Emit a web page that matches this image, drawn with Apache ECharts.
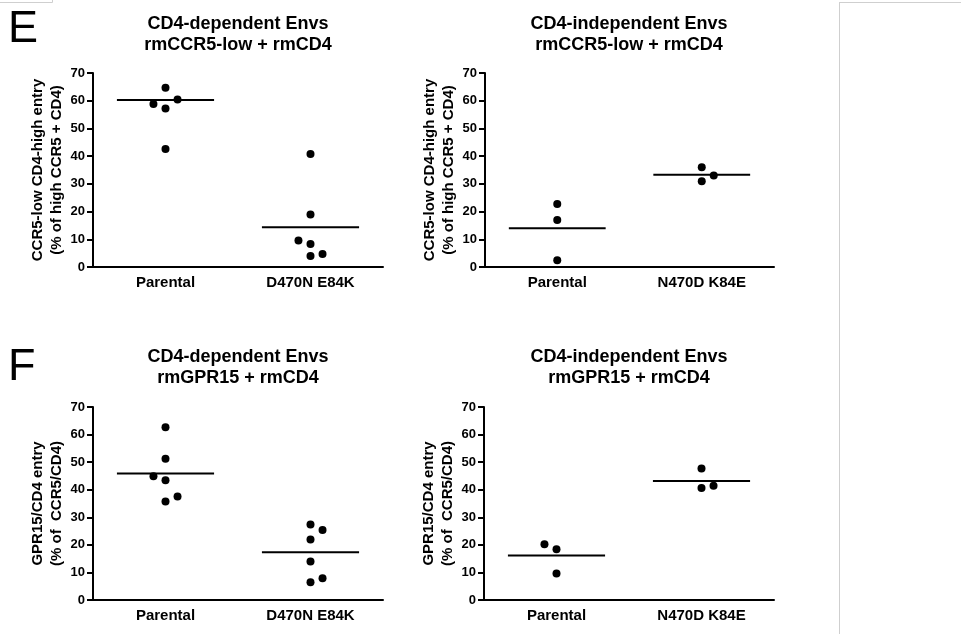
<!DOCTYPE html>
<html><head><meta charset="utf-8">
<script src="https://cdn.jsdelivr.net/npm/echarts@6/dist/echarts.min.js"></script>
<style>html,body{margin:0;padding:0;background:#fff}#c{width:961px;height:634px}</style>
</head><body><div id="c"></div>
<script>
// ---- data ----
const categoriesDep = ['Parental', 'D470N E84K'];
const categoriesIndep = ['Parental', 'N470D K84E'];
const yTicks = [0, 10, 20, 30, 40, 50, 60, 70];

const panelTitles = [
  'CD4-dependent Envs\nrmCCR5-low + rmCD4',
  'CD4-independent Envs\nrmCCR5-low + rmCD4',
  'CD4-dependent Envs\nrmGPR15 + rmCD4',
  'CD4-independent Envs\nrmGPR15 + rmCD4'
];
const yNameE = 'CCR5-low CD4-high entry\n(% of high CCR5 + CD4)';
const yNameF = 'GPR15/CD4 entry\n(% of  CCR5/CD4)';
const panelLetters = ['E', 'F'];

// E, CD4-dependent (rmCCR5-low + rmCD4)
const eDepParental = [64.7, 60.4, 58.8, 57.2, 42.6];
const eDepParentalSlot = [0, 1, -1, 0, 0];
const eDepMutant = [40.8, 18.9, 9.6, 8.3, 4.7, 4.0];
const eDepMutantSlot = [0, 0, -1, 0, 1, 0];
const eDepMeans = [60.3, 14.3];

// E, CD4-independent (rmCCR5-low + rmCD4)
const eIndParental = [22.7, 17.0, 2.4];
const eIndParentalSlot = [0, 0, 0];
const eIndMutant = [36.0, 33.0, 30.9];
const eIndMutantSlot = [0, 1, 0];
const eIndMeans = [14.0, 33.3];

// F, CD4-dependent (rmGPR15 + rmCD4)
const fDepParental = [62.7, 51.2, 44.9, 43.4, 37.5, 35.7];
const fDepParentalSlot = [0, 0, -1, 0, 1, 0];
const fDepMutant = [27.4, 25.4, 21.9, 14.0, 7.9, 6.4];
const fDepMutantSlot = [0, 1, 0, 0, 1, 0];
const fDepMeans = [45.9, 17.3];

// F, CD4-independent (rmGPR15 + rmCD4)
const fIndParental = [20.2, 18.4, 9.6];
const fIndParentalSlot = [-1, 0, 0];
const fIndMutant = [47.7, 41.4, 40.6];
const fIndMutantSlot = [0, 1, 0];
const fIndMeans = [16.1, 43.2];

// ---- layout / style ----
const FONT = '"Liberation Sans", Arial, Helvetica, sans-serif';
const JITTER = 0.083;     // horizontal spacing of side-by-side dots (category units)
const MEAN_HALF = 0.335;  // half length of mean bar (category units)
const grids = [
  { left: 93, top: 73, width: 290, height: 194 },
  { left: 485, top: 73, width: 289, height: 194 },
  { left: 93, top: 407, width: 290, height: 193 },
  { left: 484, top: 407, width: 290, height: 193 }
];
const titleCenters = [[238, 34.5], [629, 34.5], [238, 367.5], [629, 367.5]];

const panels = [
  { cats: categoriesDep, yName: yNameE, groups: [[eDepParental, eDepParentalSlot], [eDepMutant, eDepMutantSlot]], means: eDepMeans },
  { cats: categoriesIndep, yName: yNameE, groups: [[eIndParental, eIndParentalSlot], [eIndMutant, eIndMutantSlot]], means: eIndMeans },
  { cats: categoriesDep, yName: yNameF, groups: [[fDepParental, fDepParentalSlot], [fDepMutant, fDepMutantSlot]], means: fDepMeans },
  { cats: categoriesIndep, yName: yNameF, groups: [[fIndParental, fIndParentalSlot], [fIndMutant, fIndMutantSlot]], means: fIndMeans }
];

const xAxis = [], yAxis = [], series = [], graphic = [];
panels.forEach((p, i) => {
  xAxis.push({
    type: 'category', gridIndex: i, data: p.cats, boundaryGap: true,
    axisLine: { onZero: false, lineStyle: { color: '#000', width: 2 } },
    axisTick: { alignWithLabel: true, length: 5, lineStyle: { color: '#000', width: 2 } },
    axisLabel: { color: '#000', fontFamily: FONT, fontWeight: 'bold', fontSize: 15, margin: 8 },
    splitLine: { show: false }
  });
  xAxis.push({ type: 'value', gridIndex: i, min: -0.5, max: 1.5, show: false });
  yAxis.push({
    type: 'value', gridIndex: i, min: yTicks[0], max: yTicks[yTicks.length - 1],
    interval: yTicks[1] - yTicks[0],
    name: p.yName, nameLocation: 'middle', nameGap: 26,
    nameTextStyle: { color: '#000', fontFamily: FONT, fontWeight: 'bold', fontSize: 15, lineHeight: 19 },
    axisLine: { show: true, onZero: false, lineStyle: { color: '#000', width: 2 } },
    axisTick: { show: true, length: 6, lineStyle: { color: '#000', width: 2 } },
    axisLabel: { color: '#000', fontFamily: FONT, fontWeight: 'bold', fontSize: 13, margin: 8 },
    splitLine: { show: false }
  });
  const pts = [];
  p.groups.forEach((g, gi) => {
    g[0].forEach((v, k) => pts.push([gi + g[1][k] * JITTER, v]));
  });
  series.push({
    type: 'scatter', xAxisIndex: 2 * i + 1, yAxisIndex: i, data: pts,
    symbol: 'circle', symbolSize: 8, itemStyle: { color: '#000', opacity: 1 }, silent: true
  });
  p.means.forEach((m, gi) => {
    series.push({
      type: 'line', xAxisIndex: 2 * i + 1, yAxisIndex: i,
      data: [[gi - MEAN_HALF, m], [gi + MEAN_HALF, m]],
      symbol: 'none', lineStyle: { color: '#000', width: 2 }, silent: true
    });
  });
  graphic.push({
    type: 'text', x: titleCenters[i][0], y: titleCenters[i][1], silent: true,
    style: { text: panelTitles[i], font: 'bold 18px ' + FONT, fill: '#000',
             textAlign: 'center', textVerticalAlign: 'middle', lineHeight: 21 }
  });
});
// panel letters
graphic.push({ type: 'text', x: 8, y: 30, style: { text: panelLetters[0], font: '45px ' + FONT, fill: '#000', textVerticalAlign: 'middle' } });
graphic.push({ type: 'text', x: 8, y: 368, style: { text: panelLetters[1], font: '45px ' + FONT, fill: '#000', textVerticalAlign: 'middle' } });
// page frame remnants
const frame = '#cfcfcf';
graphic.push({ type: 'line', shape: { x1: 0, y1: 2.5, x2: 52.5, y2: 2.5 }, style: { stroke: frame, lineWidth: 1 } });
graphic.push({ type: 'line', shape: { x1: 52.5, y1: 0, x2: 52.5, y2: 2.5 }, style: { stroke: frame, lineWidth: 1 } });
graphic.push({ type: 'line', shape: { x1: 839.5, y1: 2, x2: 839.5, y2: 634 }, style: { stroke: frame, lineWidth: 1 } });
graphic.push({ type: 'line', shape: { x1: 839.5, y1: 2.5, x2: 961, y2: 2.5 }, style: { stroke: frame, lineWidth: 1 } });

const chart = echarts.init(document.getElementById('c'), null, { renderer: 'canvas' });
chart.setOption({
  animation: false, backgroundColor: '#fff',
  grid: grids.map(g => Object.assign({ containLabel: false }, g)),
  xAxis, yAxis, series, graphic
});
</script></body></html>
